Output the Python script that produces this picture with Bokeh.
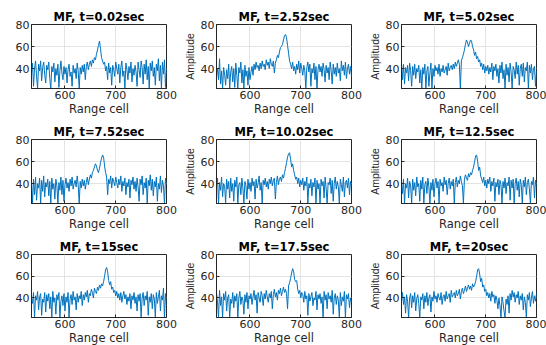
from bokeh.plotting import figure
from bokeh.layouts import column, row
from bokeh.models import FixedTicker, Range1d
from bokeh.embed import file_html
from bokeh.resources import INLINE

# ---------------- data ----------------
X_START = 534
X_STEP = 2
X_TICKS = [600, 700, 800]
Y_TICKS = [40, 60, 80]
TITLES = ["MF, t=0.02sec", "MF, t=2.52sec", "MF, t=5.02sec",
          "MF, t=7.52sec", "MF, t=10.02sec", "MF, t=12.5sec",
          "MF, t=15sec", "MF, t=17.5sec", "MF, t=20sec"]

amp_t0_02 = [36, 45, 24, 40, 47, 33, 22, 44, 38, 47, 29, 41, 46, 35, 27, 43, 39,
             46, 31, 22, 42, 37, 45, 28, 40, 34, 44, 23, 38, 47, 36, 30, 42, 35,
             41, 27, 39, 44, 33, 37, 24, 43, 36, 40, 31, 45, 38, 22, 41, 35, 43,
             37, 44, 30, 42, 46, 39, 44, 47, 42, 48, 45, 50, 48, 53, 57, 61, 65,
             58, 50, 47, 44, 46, 38, 42, 30, 45, 36, 41, 25, 43, 39, 33, 46, 40,
             35, 44, 27, 41, 47, 33, 38, 22, 45, 39, 30, 42, 36, 46, 28, 40, 34,
             43, 37, 24, 46, 39, 32, 47, 41, 26, 44, 35, 48, 30, 42, 22, 45, 38,
             47, 33, 41, 25, 44, 38, 49, 29, 43, 22, 46, 35, 48, 23, 40]
amp_t2_52 = [33, 40, 30, 49, 26, 38, 22, 41, 35, 25, 39, 31, 44, 22, 37, 42, 28,
             40, 23, 45, 34, 22, 41, 36, 46, 27, 39, 22, 43, 33, 38, 25, 41, 30,
             37, 42, 34, 44, 39, 46, 41, 43, 38, 45, 40, 47, 42, 44, 39, 48, 43,
             46, 40, 49, 44, 42, 47, 36, 45, 48, 52, 50, 55, 59, 60, 62, 66, 70,
             71, 68, 61, 54, 47, 44, 40, 46, 38, 42, 35, 44, 39, 47, 36, 45, 40,
             34, 43, 38, 22, 41, 46, 37, 44, 24, 40, 36, 45, 30, 42, 22, 39, 44,
             37, 42, 33, 45, 39, 28, 43, 36, 41, 30, 46, 38, 26, 44, 35, 41, 33,
             45, 36, 40, 29, 47, 38, 43, 34, 46, 31, 40, 44, 35, 42, 33]
amp_t5_02 = [45, 30, 44, 26, 41, 36, 43, 29, 45, 38, 24, 42, 34, 44, 31, 40, 37,
             43, 27, 39, 22, 41, 35, 44, 22, 38, 42, 24, 36, 45, 22, 40, 33, 43,
             38, 41, 35, 44, 33, 40, 37, 43, 36, 39, 42, 34, 45, 38, 41, 43, 39,
             44, 40, 46, 42, 45, 48, 44, 22, 47, 50, 53, 57, 62, 66, 64, 60, 63,
             66, 65, 60, 57, 52, 55, 49, 51, 46, 48, 42, 45, 39, 44, 36, 42, 38,
             43, 35, 41, 37, 45, 30, 42, 38, 44, 33, 40, 27, 43, 36, 46, 31, 39,
             22, 44, 34, 41, 28, 45, 37, 22, 42, 39, 31, 46, 35, 43, 25, 40, 44,
             33, 45, 28, 41, 38, 46, 22, 43, 36, 44, 30, 40, 42, 24, 38]
amp_t7_52 = [42, 22, 44, 30, 46, 25, 40, 36, 45, 22, 43, 33, 47, 28, 41, 37, 44,
             29, 42, 22, 45, 35, 40, 26, 44, 38, 22, 41, 34, 46, 30, 43, 24, 39,
             45, 36, 41, 33, 44, 38, 46, 35, 40, 43, 37, 47, 39, 22, 42, 36, 44,
             38, 43, 35, 41, 46, 39, 44, 48, 45, 50, 52, 55, 58, 56, 52, 50, 54,
             59, 63, 66, 64, 56, 50, 46, 30, 44, 40, 47, 36, 45, 42, 38, 46, 41,
             36, 44, 39, 47, 33, 42, 38, 45, 30, 41, 37, 44, 27, 43, 39, 46, 35,
             42, 33, 45, 37, 24, 44, 39, 47, 30, 41, 36, 45, 22, 43, 38, 48, 34,
             44, 29, 42, 37, 46, 24, 40, 35, 47, 32, 43, 38, 22, 45, 39]
amp_t10_02 = [37, 45, 22, 41, 34, 46, 28, 40, 38, 22, 44, 35, 42, 27, 45, 33, 40,
              24, 43, 37, 46, 22, 39, 41, 30, 45, 36, 22, 42, 38, 26, 44, 35, 41,
              33, 45, 38, 42, 26, 44, 36, 40, 47, 34, 41, 22, 43, 39, 45, 37, 42,
              35, 44, 40, 46, 38, 43, 45, 26, 41, 47, 39, 44, 46, 42, 48, 45, 50,
              54, 59, 64, 67, 68, 62, 55, 58, 52, 48, 44, 46, 40, 45, 37, 43, 39,
              45, 34, 42, 38, 46, 22, 40, 36, 44, 29, 41, 37, 45, 22, 43, 35, 40,
              22, 44, 38, 42, 27, 46, 36, 22, 41, 39, 45, 31, 43, 24, 40, 46, 35,
              42, 37, 22, 44, 39, 33, 46, 28, 41, 43, 36, 45, 30, 42, 38]
amp_t12_5 = [43, 31, 44, 22, 40, 36, 45, 27, 42, 38, 22, 44, 34, 41, 29, 46, 37,
             40, 24, 43, 35, 46, 22, 39, 42, 31, 45, 37, 22, 41, 34, 44, 28, 40,
             45, 36, 42, 22, 44, 38, 41, 33, 46, 39, 43, 30, 40, 45, 35, 42, 38,
             44, 22, 41, 46, 37, 43, 40, 47, 42, 38, 22, 44, 48, 45, 43, 49, 46,
             50, 48, 52, 55, 60, 65, 66, 60, 52, 55, 47, 44, 41, 46, 38, 43, 36,
             44, 40, 46, 33, 42, 38, 45, 24, 41, 37, 44, 30, 43, 39, 22, 42, 36,
             45, 31, 41, 38, 46, 25, 43, 36, 44, 22, 40, 45, 34, 42, 28, 44, 39,
             22, 43, 37, 46, 30, 41, 44, 35, 22, 42, 39, 46, 27, 43, 37]
amp_t15 = [40, 35, 45, 22, 42, 38, 46, 29, 41, 44, 24, 39, 36, 45, 27, 43, 37,
           44, 30, 41, 22, 46, 36, 40, 25, 43, 38, 45, 22, 37, 42, 33, 44, 28,
           41, 36, 45, 22, 39, 43, 34, 46, 38, 41, 29, 44, 36, 42, 39, 46, 33,
           43, 38, 45, 41, 47, 36, 44, 42, 48, 45, 40, 49, 46, 44, 50, 47, 52,
           49, 53, 51, 55, 60, 66, 68, 64, 56, 52, 55, 48, 50, 45, 47, 42, 46,
           40, 44, 38, 45, 36, 42, 46, 39, 43, 34, 41, 37, 44, 30, 42, 38, 45,
           35, 41, 28, 43, 37, 44, 22, 40, 45, 33, 42, 38, 46, 24, 41, 36, 44,
           30, 43, 39, 22, 45, 35, 41, 47, 28, 42, 38, 49, 22, 44, 33]
amp_t17_5 = [45, 36, 22, 47, 33, 41, 22, 44, 38, 46, 28, 40, 43, 22, 39, 35, 45,
             31, 42, 37, 44, 22, 40, 46, 34, 41, 38, 25, 43, 36, 45, 30, 42, 39,
             44, 34, 41, 47, 38, 43, 26, 45, 40, 36, 46, 42, 33, 44, 39, 47, 41,
             36, 44, 40, 46, 30, 43, 48, 41, 45, 38, 47, 44, 49, 42, 46, 50, 45,
             48, 44, 30, 51, 54, 58, 63, 67, 64, 57, 55, 56, 48, 44, 47, 40, 45,
             43, 36, 46, 39, 42, 24, 44, 37, 41, 45, 33, 40, 38, 46, 29, 43, 39,
             44, 35, 41, 22, 46, 38, 43, 30, 45, 39, 42, 36, 47, 25, 40, 44, 34,
             42, 38, 22, 45, 33, 41, 37, 46, 22, 43, 39, 44, 31, 40, 36]
amp_t20 = [38, 45, 34, 41, 26, 43, 37, 22, 40, 44, 31, 42, 36, 45, 28, 39, 43,
           35, 22, 41, 38, 44, 30, 42, 36, 45, 33, 40, 43, 27, 41, 37, 46, 39,
           42, 36, 44, 40, 38, 45, 34, 41, 43, 37, 46, 39, 42, 44, 36, 47, 41,
           43, 45, 40, 47, 42, 44, 48, 39, 46, 49, 44, 47, 51, 46, 49, 52, 48,
           51, 47, 53, 50, 52, 55, 60, 66, 67, 62, 55, 58, 50, 52, 46, 48, 42,
           45, 40, 44, 37, 46, 41, 43, 35, 42, 38, 30, 40, 33, 22, 41, 36, 28,
           22, 39, 34, 42, 26, 44, 38, 47, 41, 45, 36, 43, 40, 46, 34, 42, 38,
           44, 29, 41, 36, 22, 43, 38, 45, 32, 40, 46, 35, 42, 37, 44]

SERIES = [amp_t0_02, amp_t2_52, amp_t5_02, amp_t7_52, amp_t10_02,
          amp_t12_5, amp_t15, amp_t17_5, amp_t20]

# ---------------- styling ----------------
LINE = "#0072BD"
AX = "#262626"
GRID = "#e3e3e3"
FONT = "DejaVu Sans"

FRAME_W = 135
COL_BORDERS = [(31, 13), (37, 13), (37, 10)]               # left, right
ROW_BORDERS = [(24, 27, 64), (21, 27, 64), (21, 28, 63)]   # top, bottom, frame height


def make(i):
    r, c = divmod(i, 3)
    bl, br = COL_BORDERS[c]
    bt, bb, fh = ROW_BORDERS[r]
    vals = SERIES[i]
    xs = [X_START + X_STEP * k for k in range(len(vals))]
    p = figure(frame_width=FRAME_W, frame_height=fh,
               min_border_left=bl, min_border_right=br,
               min_border_top=bt, min_border_bottom=bb,
               x_range=Range1d(534, 800), y_range=Range1d(22, 80),
               output_backend="svg", toolbar_location=None,
               title=TITLES[i])
    p.line(xs, vals, line_color=LINE, line_width=1.0)

    p.title.text_font = FONT
    p.title.text_font_size = "11.5px"
    p.title.text_font_style = "bold"
    p.title.text_color = "black"
    p.title.align = "center"
    p.title.standoff = 1

    p.outline_line_color = AX
    p.outline_line_alpha = 1
    p.outline_line_width = 1
    p.background_fill_color = "white"
    p.border_fill_color = "white"

    for ax in (p.xaxis[0], p.yaxis[0]):
        ax.axis_line_color = AX
        ax.major_tick_line_color = AX
        ax.major_tick_in = 3
        ax.major_tick_out = 0
        ax.minor_tick_line_color = None
        ax.major_label_text_font = FONT
        ax.major_label_text_font_size = "11px"
        ax.major_label_text_color = AX
        ax.axis_label_text_color = AX
        ax.axis_label_text_font_style = "normal"

    p.xaxis.ticker = FixedTicker(ticks=X_TICKS)
    p.yaxis.ticker = FixedTicker(ticks=Y_TICKS)
    p.xaxis.major_label_standoff = 2
    p.yaxis.major_label_standoff = 2

    p.xaxis.axis_label = "Range cell"
    p.xaxis.axis_label_text_font = FONT
    p.xaxis.axis_label_text_font_size = "11.5px"
    p.xaxis.axis_label_standoff = 0

    if c > 0:
        p.yaxis.axis_label = "Amplitude"
        p.yaxis.axis_label_text_font = "Liberation Sans"
        p.yaxis.axis_label_text_font_size = "10.5px"
        p.yaxis.axis_label_standoff = 2

    p.xgrid.ticker = FixedTicker(ticks=X_TICKS)
    p.ygrid.ticker = FixedTicker(ticks=Y_TICKS)
    p.grid.grid_line_color = GRID
    p.grid.grid_line_width = 1
    return p


figs = [make(i) for i in range(9)]
layout = column(row(*figs[0:3]), row(*figs[3:6]), row(*figs[6:9]))

open("out.html", "w").write(file_html(layout, INLINE))
